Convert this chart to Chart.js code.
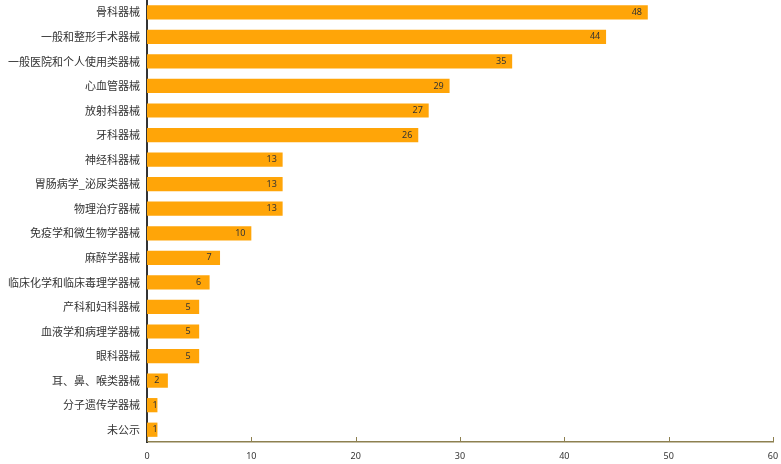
<!DOCTYPE html>
<html>
<head>
<meta charset="utf-8">
<script src="https://cdn.jsdelivr.net/npm/chart.js@4"></script>
<style>
  html, body { margin: 0; padding: 0; background: #fff; }
  #wrap { width: 781px; height: 464px; }
</style>
</head>
<body>
<div id="wrap"><canvas id="chart"></canvas></div>
<script>
const categories = [
  "骨科器械", "一般和整形手术器械", "一般医院和个人使用类器械", "心血管器械",
  "放射科器械", "牙科器械", "神经科器械", "胃肠病学_泌尿类器械", "物理治疗器械",
  "免疫学和微生物学器械", "麻醉学器械", "临床化学和临床毒理学器械", "产科和妇科器械",
  "血液学和病理学器械", "眼科器械", "耳、鼻、喉类器械", "分子遗传学器械", "未公示"
];
const counts = [48, 44, 35, 29, 27, 26, 13, 13, 13, 10, 7, 6, 5, 5, 5, 2, 1, 1];
const xTicks = [0, 10, 20, 30, 40, 50, 60];

// value labels near the bar end + inward tick marks on x axis
const extras = {
  id: "extras",
  afterDatasetsDraw(chart) {
    const ctx = chart.ctx;
    const meta = chart.getDatasetMeta(0);
    ctx.save();
    ctx.font = "9px 'Noto Sans', sans-serif";
    ctx.fillStyle = "#333";
    ctx.textAlign = "center";
    ctx.textBaseline = "middle";
    meta.data.forEach((bar, i) => {
      const x = Math.max(bar.x - 11, bar.base + 8);
      ctx.fillText(String(counts[i]), x, bar.y);
    });
    ctx.restore();
  },
  afterDraw(chart) {
    const ctx = chart.ctx;
    const xs = chart.scales.x;
    const y0 = xs.top;
    ctx.save();
    ctx.strokeStyle = "#8d8050";
    ctx.lineWidth = 1;
    xs.ticks.forEach((t) => {
      const px = Math.round(xs.getPixelForValue(t.value)) + 0.5;
      ctx.beginPath();
      ctx.moveTo(px, y0);
      ctx.lineTo(px, y0 - 5);
      ctx.stroke();
    });
    ctx.restore();
  }
};

new Chart(document.getElementById("chart"), {
  type: "bar",
  data: {
    labels: categories,
    datasets: [{
      data: counts,
      backgroundColor: "#ffa508",
      categoryPercentage: 0.58,
      barPercentage: 1.0
    }]
  },
  options: {
    indexAxis: "y",
    responsive: true,
    maintainAspectRatio: false,
    animation: false,
    layout: { padding: { top: 0, right: 8, left: 0, bottom: 0 } },
    plugins: { legend: { display: false }, tooltip: { enabled: false } },
    scales: {
      x: {
        min: 0,
        max: 60,
        afterBuildTicks: (s) => { s.ticks = xTicks.map((v) => ({ value: v })); },
        grid: { display: false, drawTicks: false },
        border: { display: true, color: "#8d8050", width: 1.5 },
        ticks: {
          padding: 9,
          color: "#333",
          font: { size: 9, family: "'Noto Sans', sans-serif" }
        },
        afterFit: (s) => { s.height = 22; s.paddingLeft = 0; s.paddingRight = 0; }
      },
      y: {
        grid: { display: false, drawTicks: false },
        border: { display: true, color: "#333", width: 2 },
        ticks: {
          padding: 7,
          color: "#333",
          font: { size: 11, family: "'Noto Sans CJK SC', sans-serif" }
        },
        afterFit: (s) => { s.width = 147; s.paddingTop = 0; s.paddingBottom = 0; }
      }
    }
  },
  plugins: [extras]
});
</script>
</body>
</html>
